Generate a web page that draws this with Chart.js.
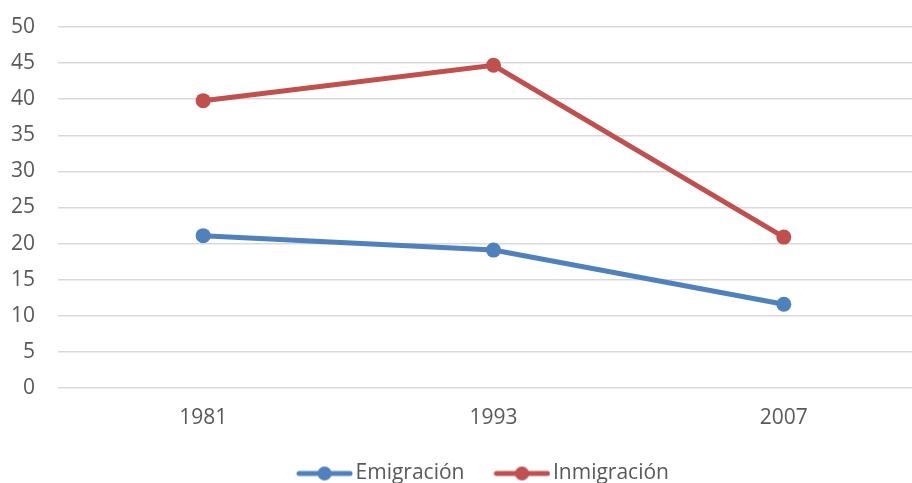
<!DOCTYPE html>
<html>
<head>
<meta charset="utf-8">
<script src="https://cdn.jsdelivr.net/npm/chart.js@4/dist/chart.umd.min.js"></script>
<style>
html,body{margin:0;padding:0;background:#fff;overflow:hidden;width:912px;height:483px;}
canvas{display:block;}
</style>
</head>
<body>
<canvas id="c" width="980" height="483"></canvas>
<script>
const categories = ["1981", "1993", "2007"];
const emigracion = [21.1, 19.1, 11.6];
const inmigracion = [39.8, 44.7, 20.9];
const seriesNames = ["Emigración", "Inmigración"];
const yTicks = [0, 5, 10, 15, 20, 25, 30, 35, 40, 45, 50];

const BLUE = "#4F81BD";
const RED = "#C0504D";
const FONT = "'Open Sans', 'Liberation Sans', sans-serif";
const FS = 21;

function legendImage(color) {
  const cv = document.createElement("canvas");
  cv.width = 57; cv.height = 16;
  const g = cv.getContext("2d");
  g.strokeStyle = color; g.lineWidth = 5; g.lineCap = "round";
  g.beginPath(); g.moveTo(3, 8); g.lineTo(54, 8); g.stroke();
  g.fillStyle = color;
  g.beginPath(); g.arc(28.5, 8, 7, 0, Math.PI * 2); g.fill();
  return cv;
}
const legendImgs = [legendImage(BLUE), legendImage(RED)];

const legendHeightFix = {
  id: "legendHeightFix",
  beforeLayout(chart) {
    const lg = chart.legend;
    if (lg && !lg._patched) {
      const orig = lg.fit.bind(lg);
      lg.fit = function () { orig(); this.height = 57; };
      lg._patched = true;
    }
  }
};

new Chart(document.getElementById("c"), {
  type: "line",
  data: {
    labels: categories,
    datasets: [
      { label: seriesNames[0], data: emigracion, borderColor: BLUE, backgroundColor: BLUE,
        borderWidth: 5, pointRadius: 7.5, pointHoverRadius: 7.5, pointBorderWidth: 0, tension: 0 },
      { label: seriesNames[1], data: inmigracion, borderColor: RED, backgroundColor: RED,
        borderWidth: 5, pointRadius: 7.5, pointHoverRadius: 7.5, pointBorderWidth: 0, tension: 0 }
    ]
  },
  plugins: [legendHeightFix],
  options: {
    responsive: false,
    animation: false,
    devicePixelRatio: 1,
    layout: { padding: { top: 27, right: 7, left: 0, bottom: 0 } },
    plugins: {
      tooltip: { enabled: false },
      legend: {
        position: "bottom",
        labels: {
          usePointStyle: true,
          pointStyleWidth: 41,
          padding: 37,
          color: "#595959",
          font: { family: FONT, size: FS },
          generateLabels: (chart) => chart.data.datasets.map((ds, i) => ({
            text: ds.label,
            pointStyle: legendImgs[i],
            fillStyle: ds.borderColor,
            strokeStyle: ds.borderColor,
            lineWidth: 0,
            fontColor: "#595959",
            hidden: false,
            datasetIndex: i
          }))
        }
      }
    },
    scales: {
      x: {
        type: "category",
        offset: true,
        afterFit: (s) => { s.height = 38; },
        grid: { display: false, drawTicks: false },
        border: { display: false },
        ticks: { color: "#595959", font: { family: FONT, size: FS }, padding: 17, maxRotation: 0 }
      },
      y: {
        min: 0, max: 50,
        afterBuildTicks: (s) => { s.ticks = yTicks.map(v => ({ value: v })); },
        afterFit: (s) => { s.width = 58; },
        grid: { color: "#D9D9D9", lineWidth: 1.5, drawTicks: true, tickLength: 23, tickColor: "rgba(0,0,0,0)" },
        border: { display: false },
        ticks: { color: "#595959", font: { family: FONT, size: FS }, padding: 0 }
      },
      yRightSpacer: {
        type: "linear",
        position: "right",
        display: true,
        min: 0, max: 50,
        afterFit: (s) => { s.width = 44; },
        grid: { display: false, drawTicks: false },
        border: { display: false },
        ticks: { display: false, padding: 0 }
      }
    }
  }
});
</script>
</body>
</html>
